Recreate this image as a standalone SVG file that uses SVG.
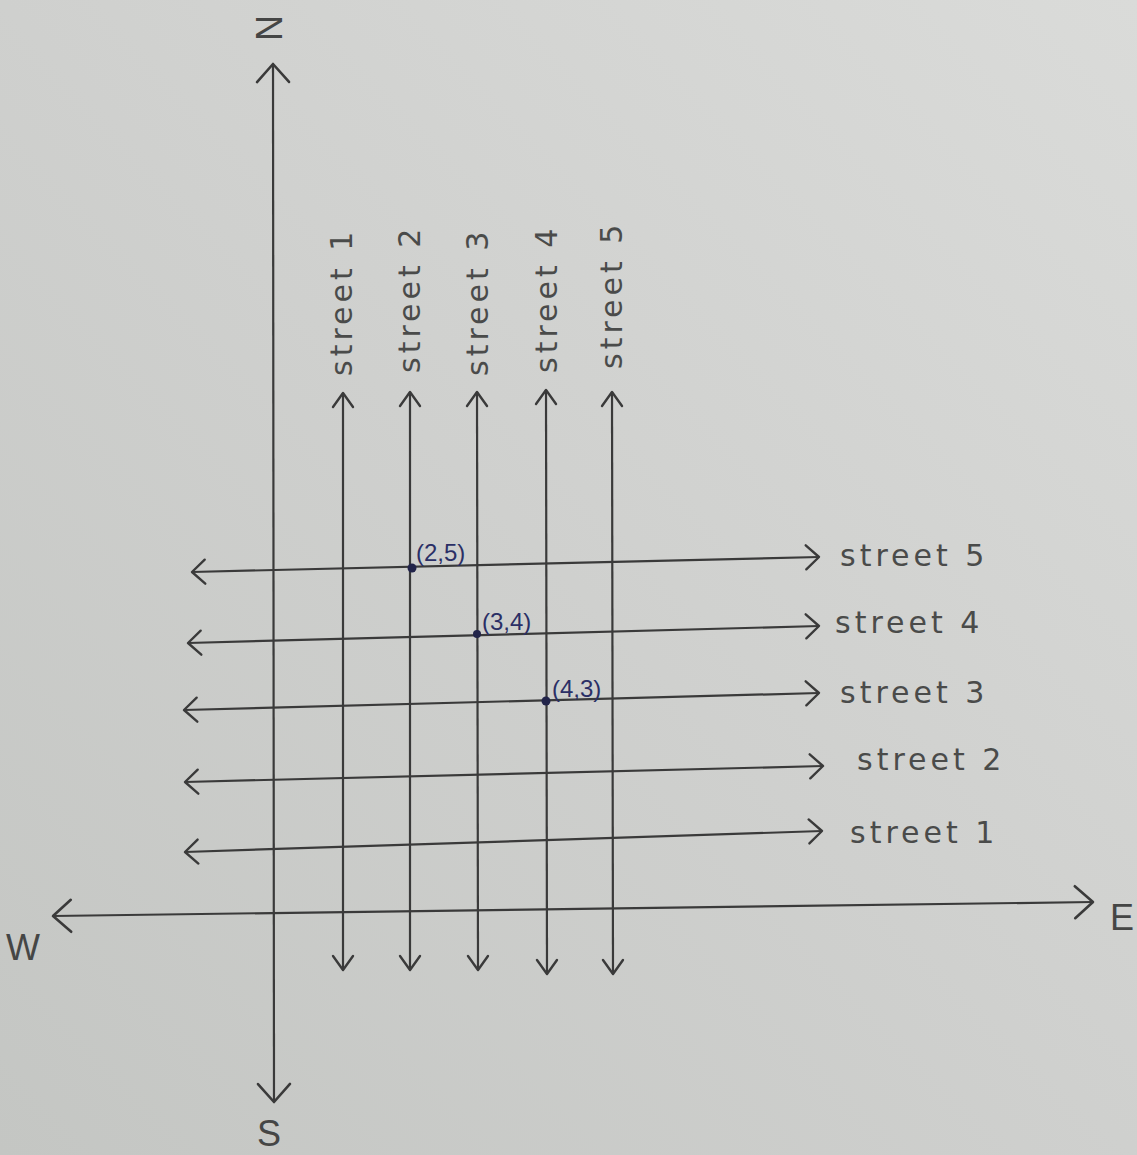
<svg xmlns="http://www.w3.org/2000/svg" width="1137" height="1155" viewBox="0 0 1137 1155">
<defs>
<linearGradient id="paper" x1="0" y1="1" x2="1" y2="0">
<stop offset="0" stop-color="#c4c6c3"/>
<stop offset="0.5" stop-color="#cfd0ce"/>
<stop offset="1" stop-color="#dadbd9"/>
</linearGradient>
<marker id="ah" markerUnits="userSpaceOnUse" markerWidth="40" markerHeight="40" viewBox="-20 -20 40 40" refX="0" refY="0" orient="auto-start-reverse">
<path d="M-13,-12 L0,0 L-13,12" fill="none" stroke="#3a3a3a" stroke-width="2.4" stroke-linecap="round" stroke-linejoin="round"/>
</marker>
<marker id="ahs" markerUnits="userSpaceOnUse" markerWidth="40" markerHeight="40" viewBox="-20 -20 40 40" refX="0" refY="0" orient="auto-start-reverse">
<path d="M-14,-10 L0,0 L-14,10" fill="none" stroke="#3a3a3a" stroke-width="2.4" stroke-linecap="round" stroke-linejoin="round"/>
</marker>
<marker id="ahb" markerUnits="userSpaceOnUse" markerWidth="50" markerHeight="50" viewBox="-25 -25 50 50" refX="0" refY="0" orient="auto-start-reverse">
<path d="M-18,-16 L0,0 L-18,16" fill="none" stroke="#3a3a3a" stroke-width="2.6" stroke-linecap="round" stroke-linejoin="round"/>
</marker>
</defs>
<style>
.ln{stroke:#3a3a3a;stroke-width:2.2;fill:none;marker-start:url(#ah);marker-end:url(#ah)}
.vs{stroke:#3a3a3a;stroke-width:2.2;fill:none;marker-start:url(#ahs);marker-end:url(#ahs)}
.ax{stroke:#3a3a3a;stroke-width:2.2;fill:none;marker-start:url(#ahb);marker-end:url(#ahb)}
.lbl{font-family:"DejaVu Sans","Liberation Sans",sans-serif;font-size:30px;fill:#4a4b4a;letter-spacing:4px}
.dir{font-family:"Liberation Sans",sans-serif;font-size:36px;fill:#454645}
.pt{font-family:"Liberation Sans",sans-serif;font-size:24px;fill:#2b2f66}
.dot{fill:#22244a}
</style>
<rect x="0" y="0" width="1137" height="1155" fill="url(#paper)"/>

<g id="connectors">
<line class="ax" x1="273" y1="64" x2="274" y2="1102"/>
<line class="ax" x1="53" y1="916" x2="1093" y2="902"/>
<line class="vs" x1="343" y1="393" x2="343" y2="970"/>
<line class="vs" x1="410" y1="392" x2="410" y2="970"/>
<line class="vs" x1="477" y1="392" x2="478" y2="970"/>
<line class="vs" x1="546" y1="390" x2="547" y2="974"/>
<line class="vs" x1="612" y1="392" x2="613" y2="974"/>
<line class="ln" x1="192" y1="572" x2="819" y2="557"/>
<line class="ln" x1="188" y1="643" x2="819" y2="626"/>
<line class="ln" x1="184" y1="710" x2="819" y2="693"/>
<line class="ln" x1="185" y1="782" x2="823" y2="766"/>
<line class="ln" x1="185" y1="852" x2="822" y2="831"/>
</g>

<g id="dir-N"><text class="dir" transform="translate(268,28) rotate(90)" text-anchor="middle" dominant-baseline="central" x="0" y="0">N</text></g>
<g id="dir-S"><text class="dir" x="257" y="1146">S</text></g>
<g id="dir-E"><text class="dir" x="1110" y="930" font-size="34">E</text></g>
<g id="dir-W"><text class="dir" x="6" y="960" font-size="32">W</text></g>

<g id="vstreet-1"><text class="lbl" transform="translate(352,376) rotate(-90)">street 1</text></g>
<g id="vstreet-2"><text class="lbl" transform="translate(420,373) rotate(-90)">street 2</text></g>
<g id="vstreet-3"><text class="lbl" transform="translate(488,376) rotate(-90)">street 3</text></g>
<g id="vstreet-4"><text class="lbl" transform="translate(557,373) rotate(-90)">street 4</text></g>
<g id="vstreet-5"><text class="lbl" transform="translate(622,369) rotate(-90)">street 5</text></g>

<g id="hstreet-5"><text class="lbl" x="840" y="566">street 5</text></g>
<g id="hstreet-4"><text class="lbl" x="835" y="633">street 4</text></g>
<g id="hstreet-3"><text class="lbl" x="840" y="703">street 3</text></g>
<g id="hstreet-2"><text class="lbl" x="857" y="770">street 2</text></g>
<g id="hstreet-1"><text class="lbl" x="850" y="843">street 1</text></g>

<g id="point-2-5"><circle class="dot" cx="412" cy="568" r="4.5"/><text class="pt" x="416" y="561">(2,5)</text></g>
<g id="point-3-4"><circle class="dot" cx="477" cy="634" r="4"/><text class="pt" x="482" y="630">(3,4)</text></g>
<g id="point-4-3"><circle class="dot" cx="546" cy="701" r="4.5"/><text class="pt" x="552" y="697">(4,3)</text></g>
</svg>
